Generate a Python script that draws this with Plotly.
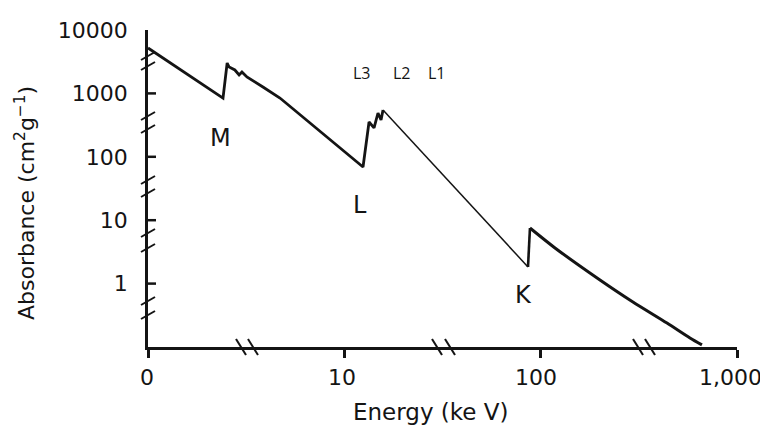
import numpy as np
import plotly.graph_objects as go

# ---- data ----
energy_kev = [1.00, 2.41, 2.53, 2.59, 2.77, 2.91, 3.01, 3.19, 3.85, 4.70,
              12.45, 13.36, 14.17, 14.84, 15.38, 15.74,
              86.2, 88.2, 118.3, 200.5, 295, 440, 576, 663]
absorbance = [5200, 845, 3015, 2605, 2340, 1950, 2180, 1815, 1262, 845,
              69, 354, 285, 491, 380, 547,
              1.83, 7.53, 3.65, 1.14, 0.513, 0.239, 0.139, 0.108]

x_tickvals = [1, 10, 100, 1000]
x_ticktext = ["0", "10", "100", "1,000"]
y_tickvals = [1, 10, 100, 1000, 10000]
y_ticktext = ["1", "10", "100", "1000", "10000"]

edge_labels = ["M", "L", "K"]
edge_label_energy = [2.33, 12.0, 81.3]
edge_label_abs = [198, 17.4, 0.66]

sub_labels = ["L3", "L2", "L1"]
sub_label_energy = [12.3, 19.7, 29.6]
sub_label_abs = [2100, 2100, 2100]

# ---- layout geometry (page has an 8px body margin) ----
OFF = 8
W, H = 768 - OFF, 430 - OFF
ML, MR, MT, MB = 148 - OFF, 31, 30 - OFF, 83
XR = [0, 3]
YR = [-1, 4]
PW = W - ML - MR
PH = H - MT - MB

INK = "#141414"
FONT = "DejaVu Sans"

fig = go.Figure()

segments = [(0, 16, 2.8, "linear"), (15, 17, 1.5, "linear"),
            (16, 18, 2.6, "linear"), (17, len(energy_kev), 3.0, "spline")]
for a, b, w, shp in segments:
    fig.add_trace(go.Scatter(
        x=energy_kev[a:b], y=absorbance[a:b], mode="lines",
        line=dict(color=INK, width=w, shape=shp, smoothing=0.8),
        showlegend=False, hoverinfo="skip"))

# pixel position in the screenshot -> paper coordinates
def px_to_xpaper(px):
    return (px - OFF - ML) / PW
def py_to_ypaper(py):
    return (OFF + H - MB - py) / PH
def ypaper(v):
    return (np.log10(v) - YR[0]) / (YR[1] - YR[0])

shapes = []
# inside tick marks on y axis (none at the very top)
for v in y_tickvals[:-1]:
    shapes.append(dict(type="line", xref="paper", yref="paper",
                       x0=0, x1=8 / PW, y0=ypaper(v), y1=ypaper(v),
                       line=dict(color=INK, width=2.5)))

# break marks on the y axis  "//"
for py in [56, 66, 116, 129, 180, 193, 233, 248, 301, 315]:
    yc = py_to_ypaper(py)
    shapes.append(dict(type="line", xref="paper", yref="paper",
                       x0=-7 / PW, x1=7 / PW, y0=yc - 4 / PH, y1=yc + 4 / PH,
                       line=dict(color=INK, width=2)))
# break marks on the x axis  "\\"
for px in [241, 253, 437, 450, 638, 650]:
    xc = px_to_xpaper(px)
    shapes.append(dict(type="line", xref="paper", yref="paper",
                       x0=xc - 5 / PW, x1=xc + 5 / PW, y0=8 / PH, y1=-8 / PH,
                       line=dict(color=INK, width=2)))

annotations = []
# x tick labels (slightly left of their ticks as in the reference)
x_label_shift = [-1, -2, -5, -7]
for v, t, s in zip(x_tickvals, x_ticktext, x_label_shift):
    annotations.append(dict(x=np.log10(v), y=py_to_ypaper(377), xref="x", yref="paper",
                            xanchor="center", yanchor="middle", xshift=s,
                            text=t, showarrow=False,
                            font=dict(family=FONT, size=22, color=INK)))

for t, e, a in zip(edge_labels, edge_label_energy, edge_label_abs):
    annotations.append(dict(x=np.log10(e), y=np.log10(a), xref="x", yref="y",
                            xanchor="center", yanchor="middle",
                            text=t, showarrow=False,
                            font=dict(family=FONT, size=24, color=INK)))
for t, e, a in zip(sub_labels, sub_label_energy, sub_label_abs):
    annotations.append(dict(x=np.log10(e), y=np.log10(a), xref="x", yref="y",
                            xanchor="center", yanchor="middle",
                            text=t, showarrow=False,
                            font=dict(family="Open Sans", size=16, color=INK)))

annotations.append(dict(x=px_to_xpaper(430), y=py_to_ypaper(412), xref="paper", yref="paper",
                        xanchor="center", yanchor="middle",
                        text="Energy (ke V)", showarrow=False,
                        font=dict(family=FONT, size=23, color=INK)))
annotations.append(dict(x=px_to_xpaper(25), y=py_to_ypaper(203), xref="paper", yref="paper",
                        xanchor="center", yanchor="middle",
                        text="Absorbance (cm<sup>2</sup>g<sup>\u22121</sup>)", textangle=-90,
                        showarrow=False,
                        font=dict(family=FONT, size=22, color=INK)))

fig.update_layout(
    width=W, height=H,
    margin=dict(l=ML, r=MR, t=MT, b=MB, pad=0, autoexpand=False),
    paper_bgcolor="white", plot_bgcolor="white",
    shapes=shapes, annotations=annotations,
    xaxis=dict(type="log", range=XR, tickvals=x_tickvals, showticklabels=False,
               showgrid=False, zeroline=False, showline=True, linecolor=INK, linewidth=2.5,
               ticks="outside", ticklen=8, tickwidth=2.5, tickcolor=INK, automargin=False),
    yaxis=dict(type="log", range=YR, tickvals=y_tickvals, ticktext=y_ticktext,
               showgrid=False, zeroline=False, showline=True, linecolor=INK, linewidth=2.5,
               ticks="", ticklabelstandoff=13, ticklabeloverflow="allow", automargin=False,
               tickfont=dict(family=FONT, size=22, color=INK)),
)

fig.write_html("out.html")
